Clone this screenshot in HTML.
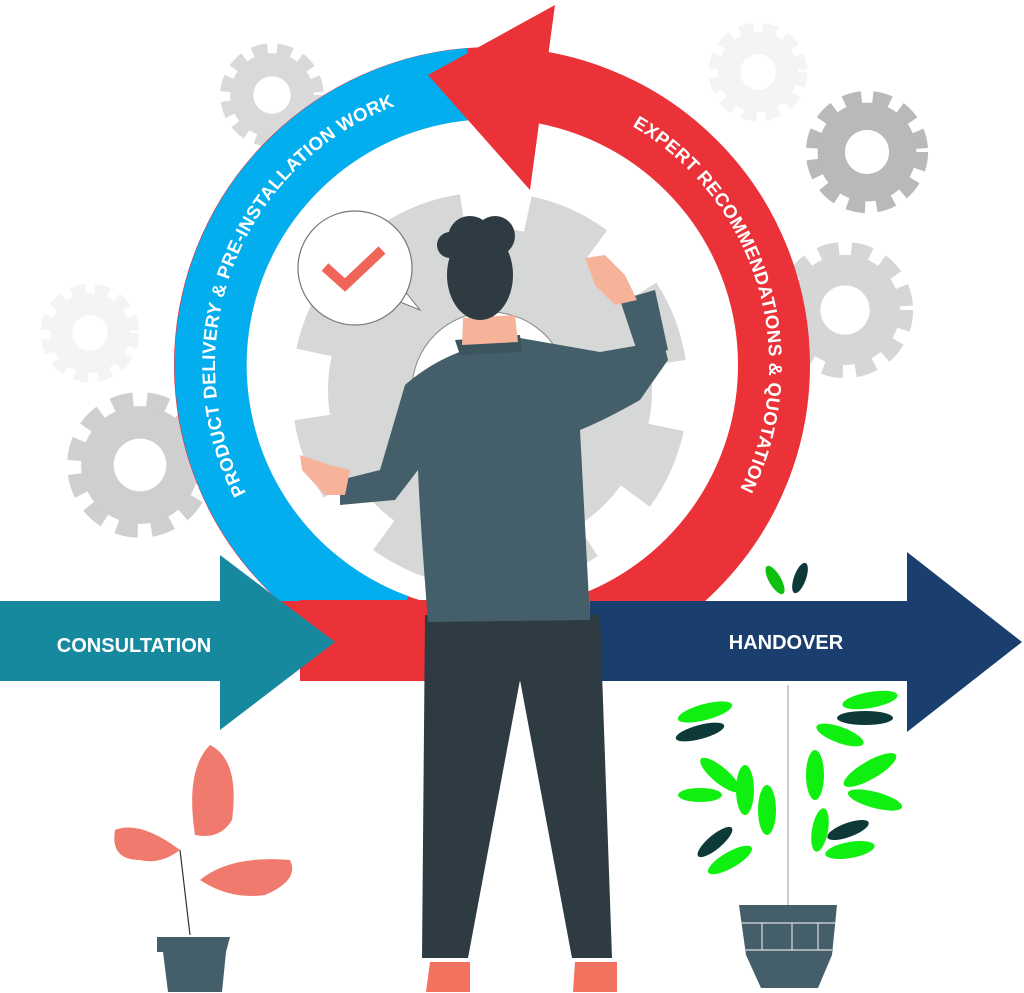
<!DOCTYPE html>
<html><head><meta charset="utf-8"><style>html,body{margin:0;padding:0;background:#fff}svg{display:block}</style></head>
<body>
<svg width="1024" height="993" viewBox="0 0 1024 993" xmlns="http://www.w3.org/2000/svg" font-family="Liberation Sans, sans-serif">
<defs>
<g id="gear"><circle r="40" fill="none" stroke="currentColor" stroke-width="14" stroke-dasharray="13 8.4"/><circle r="38" fill="currentColor"/><circle r="17" fill="#fff"/></g>
<path id="tb" d="M257,512 A277,277 0 0 1 416,99"/>
<path id="tr" d="M609,114 A277,277 0 0 1 727,512"/>
<clipPath id="top"><rect x="0" y="0" width="1024" height="601"/></clipPath>
</defs>
<use href="#gear" transform="translate(272,95) scale(1.1)" color="#d9d9d9"/>
<use href="#gear" transform="translate(758,72) scale(1.05)" color="#f4f4f4"/>
<use href="#gear" transform="translate(867,152) scale(1.3)" color="#b9b9b9"/>
<use href="#gear" transform="translate(845,310) scale(1.45)" color="#d6d6d6"/>
<use href="#gear" transform="translate(90,333) scale(1.05)" color="#f4f4f4"/>
<use href="#gear" transform="translate(140,465) scale(1.55)" color="#cfcfcf"/>
<circle cx="492" cy="365" r="282" fill="none" stroke="#ea3238" stroke-width="72"/>
<path d="M396,630 A282,282 0 0 1 470,84" fill="none" stroke="#03aeee" stroke-width="72" clip-path="url(#top)"/>
<polygon points="428,75 555,5 530,190" fill="#ea3238"/>
<text font-size="18.5" font-weight="bold" fill="#fff" letter-spacing="0.4"><textPath href="#tb" startOffset="50%" text-anchor="middle">PRODUCT DELIVERY &amp; PRE-INSTALLATION WORK</textPath></text>
<text font-size="18.5" font-weight="bold" fill="#fff" letter-spacing="0.4"><textPath href="#tr" startOffset="50%" text-anchor="middle">EXPERT RECOMMENDATIONS &amp; QUOTATION</textPath></text>
<g transform="translate(490,390) rotate(12)">
<circle r="178" fill="none" stroke="#d6d8d7" stroke-width="40" stroke-dasharray="75 64.8"/>
<circle r="162" fill="#d6d8d7"/>
<circle r="78" fill="#fff" stroke="#888" stroke-width="1"/>
</g>
<path d="M395,300 L420,310 L400,285 Z" fill="#fff" stroke="#777"/>
<circle cx="355" cy="268" r="57" fill="#fff" stroke="#777" stroke-width="1.2"/>
<polyline points="325,267 345,285 382,250" fill="none" stroke="#f0645a" stroke-width="10"/>
<rect x="300" y="600" width="300" height="81" fill="#ea3238"/>
<polygon points="0,601 220,601 220,555 335,642 220,730 220,681 0,681" fill="#17899f"/>
<text x="134" y="652" font-size="20" font-weight="bold" fill="#fff" text-anchor="middle">CONSULTATION</text>
<polygon points="590,601 907,601 907,552 1022,642 907,732 907,681 590,681" fill="#1a3e6e"/>
<text x="786" y="649" font-size="20" font-weight="bold" fill="#fff" text-anchor="middle">HANDOVER</text>
<path d="M425,615 L600,615 L612,958 L572,958 L520,680 L468,958 L422,958Z" fill="#2e3b42"/>
<path d="M430,962 h40 v30 h-44z M575,962 h42 v30 h-44z" fill="#f2725f"/>
<path d="M405,385 Q450,345 520,338 L600,352 L640,345 L663,340 L668,360 L640,400 Q605,420 580,430 L590,620 L428,622 Q420,520 418,470 L395,500 L340,505 L340,480 L380,470 Z" fill="#445f69"/>
<path d="M620,300 L655,290 L668,350 L640,360Z" fill="#445f69"/>
<path d="M455,340 L520,335 L522,352 L460,355Z" fill="#3b545d"/>
<path d="M463,318 L515,315 L518,342 L462,345Z" fill="#f7b39a"/>
<ellipse cx="480" cy="275" rx="33" ry="45" fill="#2e3b42"/>
<circle cx="470" cy="238" r="22" fill="#2e3b42"/><circle cx="495" cy="236" r="20" fill="#2e3b42"/><circle cx="450" cy="245" r="13" fill="#2e3b42"/>
<path d="M300,455 L330,465 L350,470 L345,495 L325,495 L302,470Z" fill="#f7b39a"/>
<path d="M585,258 L605,255 L625,275 L637,300 L615,305 L595,285Z" fill="#f7b39a"/>
<path d="M190,935 L180,850" stroke="#333" stroke-width="1.2"/>
<path d="M195,835 Q185,770 210,745 Q240,760 232,820 Q220,840 195,835Z" fill="#f07a6e"/>
<path d="M180,850 Q140,820 115,830 Q110,860 140,860 Q160,865 180,850Z" fill="#f07a6e"/>
<path d="M200,880 Q230,855 290,860 Q300,880 265,895 Q230,900 200,880Z" fill="#f07a6e"/>
<polygon points="157,937 230,937 226,952 222,992 168,992 163,952 157,952" fill="#445f69"/>
<line x1="788" y1="685" x2="788" y2="905" stroke="#bbb" stroke-width="1.5"/>
<g fill="#10f010">
<ellipse cx="705" cy="712" rx="28" ry="8" transform="rotate(-15 705 712)"/>
<ellipse cx="870" cy="700" rx="28" ry="8" transform="rotate(-10 870 700)"/>
<ellipse cx="840" cy="735" rx="25" ry="8" transform="rotate(20 840 735)"/>
<ellipse cx="720" cy="775" rx="25" ry="8" transform="rotate(40 720 775)"/>
<ellipse cx="745" cy="790" rx="9" ry="25"/>
<ellipse cx="767" cy="810" rx="9" ry="25"/>
<ellipse cx="815" cy="775" rx="9" ry="25"/>
<ellipse cx="870" cy="770" rx="30" ry="9" transform="rotate(-30 870 770)"/>
<ellipse cx="875" cy="800" rx="28" ry="8" transform="rotate(15 875 800)"/>
<ellipse cx="730" cy="860" rx="25" ry="8" transform="rotate(-30 730 860)"/>
<ellipse cx="850" cy="850" rx="25" ry="8" transform="rotate(-10 850 850)"/>
<ellipse cx="820" cy="830" rx="8" ry="22" transform="rotate(10 820 830)"/>
<ellipse cx="700" cy="795" rx="22" ry="7"/>
</g>
<g fill="#0d3a38">
<ellipse cx="700" cy="732" rx="25" ry="7" transform="rotate(-15 700 732)"/>
<ellipse cx="865" cy="718" rx="28" ry="7"/>
<ellipse cx="715" cy="842" rx="22" ry="7" transform="rotate(-40 715 842)"/>
<ellipse cx="848" cy="830" rx="22" ry="7" transform="rotate(-20 848 830)"/>
<ellipse cx="800" cy="578" rx="6" ry="16" transform="rotate(20 800 578)"/>
</g>
<ellipse cx="775" cy="580" rx="6" ry="16" transform="rotate(-30 775 580)" fill="#10c010"/>
<polygon points="739,905 837,905 832,955 818,988 761,988 746,955" fill="#445f69"/>
<path d="M741,923 h94 M744,950 h88 M762,923 v27 M792,923 v27 M818,923 v27" stroke="#ddd" stroke-width="1.2"/>
</svg>
</body></html>
